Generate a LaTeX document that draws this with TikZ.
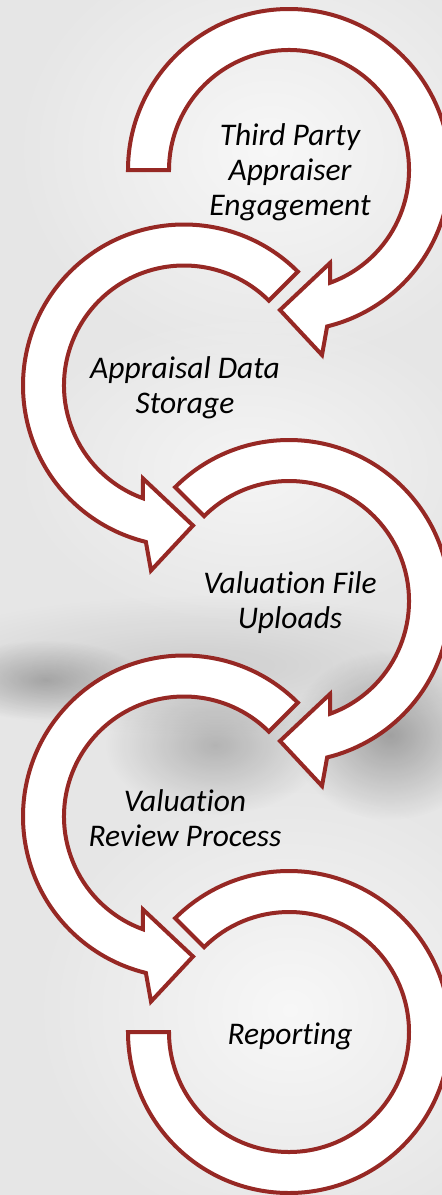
\documentclass[tikz,border=0pt]{standalone}
\usepackage{fontspec}
\setmainfont{Carlito}[Ligatures=NoCommon]
\usetikzlibrary{calc,fadings}
\definecolor{ringred}{RGB}{150,40,36}
\definecolor{bgcol}{RGB}{230,230,230}
\tikzfading[name=softblob, inner color=transparent!0, outer color=transparent!100]
\tikzset{
  ringshape/.style={draw=ringred, line width=4pt, fill=white, line join=miter},
  steptext/.style={font=\itshape\fontsize{31.5}{35}\selectfont, align=center, text=black, inner sep=0pt},
  bgblob/.style={fill=#1, path fading=softblob}
}
\newcommand{\arrowring}[1]{%
  \draw[ringshape] (#1:161) arc[start angle=#1, end angle=436.3, radius=161]
    -- (33,185) -- (-9,140) -- (41,93) -- (430:120)
    arc[start angle=430, end angle=#1, radius=120] -- cycle;}
\begin{document}
\begin{tikzpicture}[x=1pt,y=-1pt]
\useasboundingbox (0,0) rectangle (442,1195);
\fill[bgcol] (0,0) rectangle (442,1195);
% background light and dark patches
\fill[bgblob=white, opacity=0.7] (270,150) ellipse [x radius=260, y radius=220];
\fill[bgblob=white, opacity=0.6] (250,470) ellipse [x radius=240, y radius=160];
\fill[bgblob=white, opacity=0.7] (290,1010) ellipse [x radius=260, y radius=230];
\fill[bgblob=black, opacity=0.10] (200,665) ellipse [x radius=300, y radius=70];
\fill[bgblob=black, opacity=0.30] (390,735) ellipse [x radius=100, y radius=85];
\fill[bgblob=black, opacity=0.22] (215,745) ellipse [x radius=110, y radius=70];
\fill[bgblob=black, opacity=0.25] (45,680) ellipse [x radius=100, y radius=40];
% centres
\coordinate (c1) at (289,170);
\coordinate (c2) at (184,385.5);
\coordinate (c3) at (289,601);
\coordinate (c4) at (184,816.5);
\coordinate (c5) at (289,1032);
% rings
\begin{scope}[shift={(c5)}]
  \draw[ringshape] (225:161) arc[start angle=225, end angle=540, radius=161]
    -- (540:120) arc[start angle=540, end angle=225, radius=120] -- cycle;
\end{scope}
\begin{scope}[shift={(c4)}, xscale=-1]\arrowring{225}\end{scope}
\begin{scope}[shift={(c3)}]\arrowring{225}\end{scope}
\begin{scope}[shift={(c2)}, xscale=-1]\arrowring{225}\end{scope}
\begin{scope}[shift={(c1)}]\arrowring{180}\end{scope}
% texts
\node[steptext] (t1) at ($(c1)+(1,2)$) {Third Party\\Appraiser\\Engagement};
\node[steptext] (t2) at ($(c2)+(1,2)$) {Appraisal Data\\Storage};
\node[steptext] (t3) at ($(c3)+(1,2)$) {Valuation File\\Uploads};
\node[steptext] (t4) at ($(c4)+(1,2)$) {Valuation\\Review Process};
\node[steptext] (t5) at ($(c5)+(1,4)$) {Reporting};
\end{tikzpicture}
\end{document}
